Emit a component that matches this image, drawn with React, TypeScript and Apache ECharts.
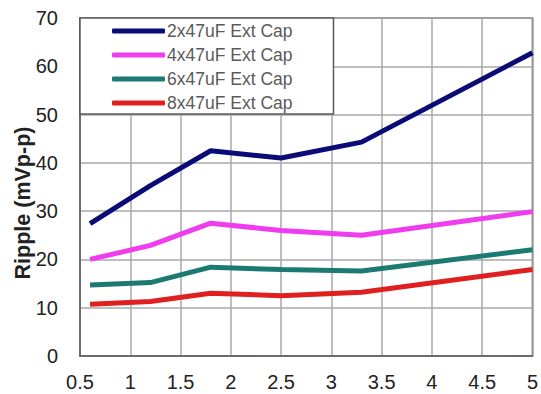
import React, { useEffect, useRef } from "react";
import * as echarts from "echarts";

const xValues = [0.6, 1.2, 1.8, 2.5, 3.3, 5];
const seriesNames = ["2x47uF Ext Cap", "4x47uF Ext Cap", "6x47uF Ext Cap", "8x47uF Ext Cap"];
const cap2 = [27.4, 35.3, 42.5, 41, 44.3, 62.8];
const cap4 = [20, 22.9, 27.5, 26, 25, 29.9];
const cap6 = [14.7, 15.2, 18.4, 17.9, 17.6, 22];
const cap8 = [10.7, 11.3, 13, 12.5, 13.2, 17.9];
const seriesColors = ["#0b0b78", "#ee3cee", "#1c7a72", "#e02020"];
const yTitle = "Ripple (mVp-p)";

export default function App() {
  const ref = useRef<HTMLDivElement>(null);
  useEffect(() => {
    if (!ref.current) return;
    const chart = echarts.init(ref.current, null, { renderer: "svg" });
    const all = [cap2, cap4, cap6, cap8];
    chart.setOption({
      animation: false,
      textStyle: { fontFamily: "Liberation Sans, Arial, sans-serif" },
      grid: {
        left: 80,
        right: 4,
        top: 18,
        bottom: 38,
        show: true,
        borderColor: "#5a5a5a",
        borderWidth: 1.5,
        backgroundColor: "#fff",
      },
      legend: {
        orient: "vertical",
        left: 80,
        top: 18,
        backgroundColor: "#fff",
        borderColor: "#5a5a5a",
        borderWidth: 1.5,
        padding: [4, 41, 2, 32],
        itemWidth: 53,
        itemHeight: 5,
        itemGap: 6,
        icon: "roundRect",
        textStyle: { fontSize: 17.5, color: "#5a5a5a", padding: [0, 0, 0, -3] },
        data: seriesNames,
      },
      graphic: [
        {
          type: "text",
          x: 23,
          y: 203,
          rotation: Math.PI / 2,
          style: {
            text: yTitle,
            fontSize: 21.5,
            fontWeight: "bold",
            fontFamily: "Liberation Sans, Arial, sans-serif",
            fill: "#222",
            textAlign: "center",
            textVerticalAlign: "middle",
          },
        },
      ],
      xAxis: {
        type: "value",
        min: 0.5,
        max: 5,
        interval: 0.5,
        axisLine: { show: true, lineStyle: { color: "#5a5a5a", width: 1.5 } },
        axisTick: { show: false },
        axisLabel: { fontSize: 20, color: "#222", margin: 16 },
        splitLine: { show: true, lineStyle: { color: "#a8a8a8", width: 1.5 } },
      },
      yAxis: {
        type: "value",
        min: 0,
        max: 70,
        interval: 10,
        axisLine: { show: true, lineStyle: { color: "#5a5a5a", width: 1.5 } },
        axisTick: { show: false },
        axisLabel: { fontSize: 20, color: "#222", margin: 22 },
        splitLine: { show: true, lineStyle: { color: "#a8a8a8", width: 1.5 } },
      },
      series: seriesNames.map((name, i) => ({
        name,
        type: "line",
        data: xValues.map((x, j) => [x, all[i][j]]),
        symbol: "none",
        lineStyle: { color: seriesColors[i], width: 5 },
        itemStyle: { color: seriesColors[i] },
        z: 2,
      })),
    });
    return () => chart.dispose();
  }, []);
  return <div ref={ref} style={{ width: 541, height: 394, position: "absolute", left: 0, top: 0, background: "#fff" }} />;
}
